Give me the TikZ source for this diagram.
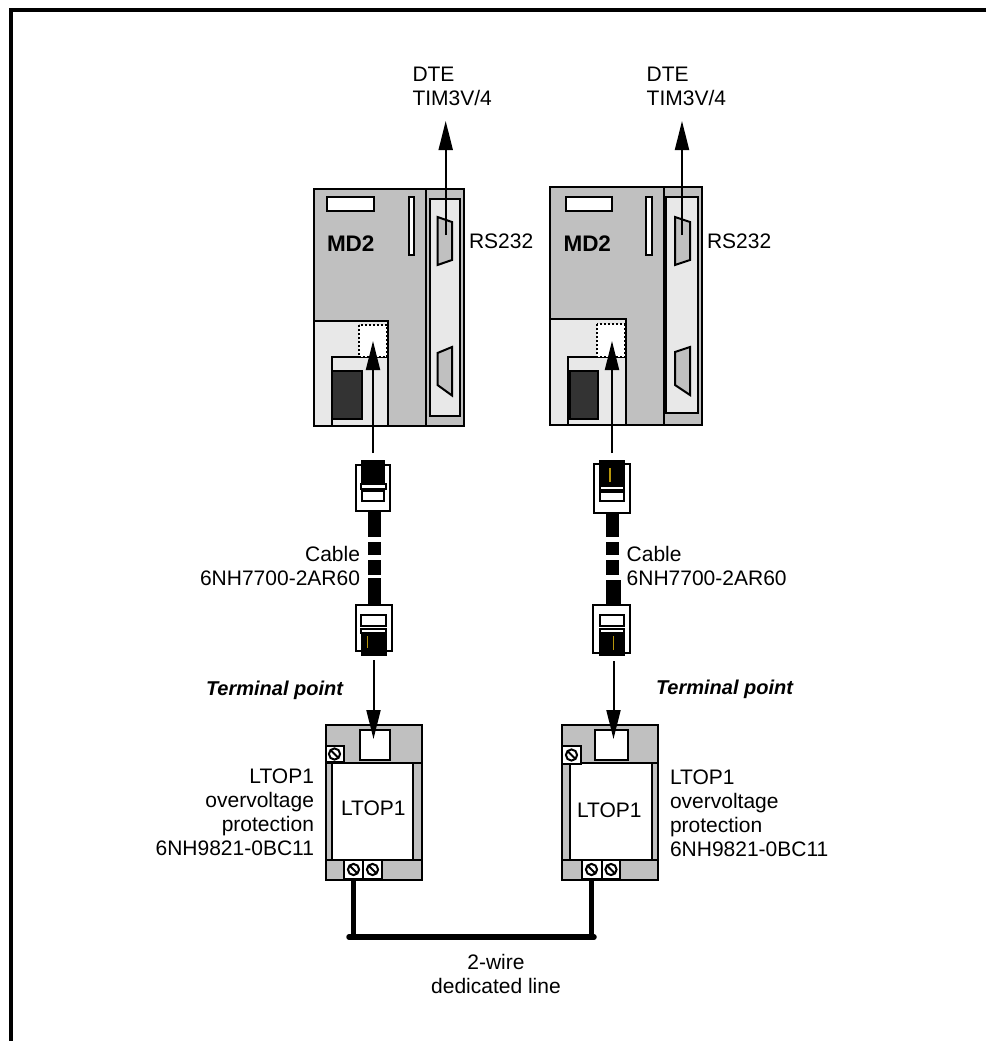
\documentclass[tikz,border=0pt]{standalone}
\usepackage{fontspec}
\setmainfont{Liberation Sans}
\usetikzlibrary{arrows.meta}
\definecolor{grayfill}{HTML}{C0C0C0}
\definecolor{lightfill}{HTML}{E8E8E8}
\definecolor{darkfill}{HTML}{333333}
\definecolor{goldline}{HTML}{B8960C}
\tikzset{
  x=1pt,y=-1pt,
  part/.style={draw=black,line width=2pt,line join=miter},
  grayp/.style={part,fill=grayfill},
  lightp/.style={part,fill=lightfill},
  whitep/.style={part,fill=white},
  darkp/.style={part,fill=darkfill},
  blackp/.style={fill=black,draw=none},
  dotp/.style={draw=black,fill=white,line width=2pt,dash pattern=on 2pt off 2pt},
  sig/.style={draw=black,line width=2pt,-{Triangle[length=29pt,width=14pt]}},
  wire/.style={draw=black,line width=5.5pt,line cap=round},
  lab/.style={inner sep=0pt,outer sep=0pt,font=\fontsize{21}{24}\selectfont},
  labb/.style={inner sep=0pt,outer sep=0pt,font=\fontsize{22.5}{24}\selectfont\bfseries},
  labi/.style={inner sep=0pt,outer sep=0pt,font=\fontsize{20}{24}\selectfont\bfseries\itshape},
  gold/.style={draw=goldline,line width=1.2pt},
}
% screw: centre x, centre y
\newcommand{\screwmark}[2]{%
  \draw[line width=2pt,fill=white] (#1,#2) circle[radius=5.6];
  \draw[line width=2pt] (#1-3.9,#2-3.9) -- (#1+3.9,#2+3.9);}
\begin{document}
\begin{tikzpicture}
\useasboundingbox (0,0) rectangle (986,1041);
\fill[white] (0,0) rectangle (986,1041);
\draw[line width=4pt] (986,10) -- (11,10) -- (11,1041);

% ---------- left MD2 ----------
\draw[grayp] (313.5,189) rectangle (463.5,425.5);
\draw[part] (426,189) -- (426,425.5);
\draw[lightp] (429.5,199) rectangle (459.5,415.5);
\draw[whitep] (327,197) rectangle (374,211);
\draw[whitep] (409,197) rectangle (414,255);
\draw[grayp] (437.5,217) -- (452,222) -- (452,260) -- (437.5,265) -- cycle;
\draw[grayp] (437.5,353) -- (452,347) -- (452,395.5) -- (437.5,385) -- cycle;
\draw[lightp] (313.5,321) rectangle (387.5,425.5);
\draw[lightp] (331.5,357) rectangle (387.5,425.5);
\draw[dotp] (359,324.5) rectangle (386.5,357);
\draw[darkp] (331.5,371) rectangle (362,419);

% ---------- right MD2 ----------
\draw[grayp] (549.5,187) rectangle (702,425);
\draw[part] (664,187) -- (664,425);
\draw[lightp] (666,197) rectangle (698,412.5);
\draw[whitep] (565.5,197) rectangle (612,211);
\draw[whitep] (645.5,197) rectangle (651.5,255);
\draw[grayp] (675,217) -- (690,222) -- (690,260) -- (675,265) -- cycle;
\draw[grayp] (675,352) -- (690,347) -- (690,395) -- (675,385) -- cycle;
\draw[lightp] (549.5,319) rectangle (626,425);
\draw[lightp] (568,357) rectangle (626,425);
\draw[dotp] (597,324) rectangle (624.5,357);
\draw[darkp] (569.5,371) rectangle (598,419);

% ---------- left cable ----------
\draw[whitep] (355.5,465) rectangle (390,511);
\draw[part,fill=black] (361.5,461) rectangle (384,483);
\draw[whitep] (361,483.5) rectangle (385.5,489);
\draw[whitep] (361.5,491) rectangle (384,501);
\fill[blackp] (368,511) rectangle (381,537);
\fill[blackp] (368,542) rectangle (381,555);
\fill[blackp] (368,560) rectangle (381,575);
\fill[blackp] (368,578) rectangle (381,605);
\draw[whitep] (355.5,605) rectangle (392,651);
\draw[whitep] (361,615) rectangle (386,626);
\draw[whitep] (361,629) rectangle (386,633);
\draw[part,fill=black] (361.5,634) rectangle (386,655);
\draw[gold] (367.5,636) -- (367.5,648);

% ---------- right cable ----------
\draw[whitep] (593.5,464) rectangle (630,513);
\draw[part,fill=black] (599.5,461) rectangle (624,485);
\draw[gold] (610,468) -- (610,482);
\draw[whitep] (599.5,485.5) rectangle (624,490);
\draw[whitep] (599.5,492) rectangle (624,501);
\fill[blackp] (606,513) rectangle (619,537);
\fill[blackp] (606,542) rectangle (619,555);
\fill[blackp] (606,560) rectangle (619,575);
\fill[blackp] (606,580) rectangle (621,605);
\draw[whitep] (593,605) rectangle (630,653);
\draw[whitep] (599.5,615) rectangle (624,626);
\draw[whitep] (599.5,629) rectangle (624,633);
\draw[part,fill=black] (600,634) rectangle (624,655);
\draw[gold] (613.5,636) -- (613.5,650);

% ---------- left LTOP ----------
\draw[grayp] (325.5,725) rectangle (421.5,879.5);
\draw[whitep] (331.5,762.5) rectangle (413,859.5);
\draw[part] (325.5,762.5) -- (421.5,762.5);
\draw[part] (325.5,859.5) -- (421.5,859.5);
\draw[whitep] (359.5,729.5) rectangle (390,759.5);
\draw[whitep] (326,745.5) rectangle (343.5,762);
\screwmark{334.5}{754}
\draw[whitep] (343.5,859.5) rectangle (363,879);
\screwmark{353.5}{869.5}
\draw[whitep] (363,859.5) rectangle (381.5,879);
\screwmark{372.5}{869.5}

% ---------- right LTOP ----------
\draw[grayp] (561.5,725) rectangle (658,879.5);
\draw[whitep] (570,762.5) rectangle (651.5,859.5);
\draw[part] (561.5,762.5) -- (658,762.5);
\draw[part] (561.5,859.5) -- (658,859.5);
\draw[whitep] (595,729.5) rectangle (628,759.5);
\draw[whitep] (562,745.5) rectangle (581,764);
\screwmark{571.5}{755}
\draw[whitep] (582,859.5) rectangle (601.5,879);
\screwmark{591.5}{869.5}
\draw[whitep] (601.5,859.5) rectangle (620,879);
\screwmark{611}{869.5}

% ---------- connectors ----------
\coordinate (topA1) at (445.7,235);   \coordinate (topA2) at (445.7,121);
\coordinate (topB1) at (682,235);     \coordinate (topB2) at (682,121);
\coordinate (plugA1) at (373,453);    \coordinate (portA1) at (373,341);
\coordinate (plugB1) at (612,453);    \coordinate (portB1) at (612,341);
\coordinate (plugA2) at (373.5,660);  \coordinate (ltopA) at (373.5,739);
\coordinate (plugB2) at (613.5,661);  \coordinate (ltopB) at (613.5,739);
\draw[sig] (topA1) -- (topA2);
\draw[sig] (topB1) -- (topB2);
\draw[sig] (plugA1) -- (portA1);
\draw[sig] (plugB1) -- (portB1);
\draw[sig] (plugA2) -- (ltopA);
\draw[sig] (plugB2) -- (ltopB);

\coordinate (screwA) at (353.5,878);
\coordinate (screwB) at (591.5,878);
\coordinate (busA) at (349,937);
\coordinate (busB) at (594,937);
\draw[wire,line cap=butt] (screwA) -- (screwA |- busA);
\draw[wire,line cap=butt] (screwB) -- (screwB |- busB);
\draw[wire] (busA) -- (busB);

% ---------- labels (base anchor = last line) ----------
\node[lab,anchor=base west,align=left] (dteA) at (412.5,105) {DTE\\TIM3V/4};
\node[lab,anchor=base west,align=left] (dteB) at (646.7,105) {DTE\\TIM3V/4};
\node[labb,anchor=base west] (mdA) at (327,251) {MD2};
\node[labb,anchor=base west] (mdB) at (563.5,251) {MD2};
\node[lab,anchor=base west] (rsA) at (469,248) {RS232};
\node[lab,anchor=base west] (rsB) at (707,248) {RS232};
\node[lab,anchor=base east,align=right] (cabA) at (360,585) {Cable\\6NH7700-2AR60};
\node[lab,anchor=base west,align=left] (cabB) at (626.7,585) {Cable\\6NH7700-2AR60};
\node[labi,anchor=base west] (tpA) at (206,695) {Terminal point};
\node[labi,anchor=base west] (tpB) at (656,694) {Terminal point};
\node[lab,anchor=base west] (ltA) at (341,815) {LTOP1};
\node[lab,anchor=base west] (ltB) at (577,817) {LTOP1};
\node[lab,anchor=base east,align=right] (descA) at (314,855) {LTOP1\\overvoltage\\protection\\6NH9821-0BC11};
\node[lab,anchor=base west,align=left] (descB) at (670,856) {LTOP1\\overvoltage\\protection\\6NH9821-0BC11};
\node[lab,anchor=base,align=center] (lineL) at (496,993) {2-wire\\dedicated line};
\end{tikzpicture}
\end{document}
